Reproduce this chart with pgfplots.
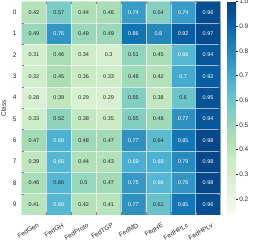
\documentclass[border=0pt]{standalone}
\usepackage{pgfplots}
\pgfplotsset{compat=1.18}
\usepackage{pgfplotstable}
\usepackage{fontspec}
\setmainfont{Liberation Sans}
\definecolor{darktxt}{HTML}{262626}
\pgfplotstableread{
x y v w
0 0 0.42 0
1 0 0.57 0
2 0 0.44 0
3 0 0.46 0
4 0 0.74 1
5 0 0.54 0
6 0 0.74 1
7 0 0.96 1
0 1 0.49 0
1 1 0.76 1
2 1 0.49 0
3 1 0.49 0
4 1 0.86 1
5 1 0.8 1
6 1 0.92 1
7 1 0.97 1
0 2 0.31 0
1 2 0.46 0
2 2 0.34 0
3 2 0.3 0
4 2 0.51 0
5 2 0.45 0
6 2 0.66 1
7 2 0.94 1
0 3 0.32 0
1 3 0.45 0
2 3 0.36 0
3 3 0.33 0
4 3 0.48 0
5 3 0.42 0
6 3 0.7 1
7 3 0.92 1
0 4 0.28 0
1 4 0.39 0
2 4 0.29 0
3 4 0.29 0
4 4 0.55 0
5 4 0.38 0
6 4 0.6 0
7 4 0.95 1
0 5 0.33 0
1 5 0.52 0
2 5 0.38 0
3 5 0.35 0
4 5 0.55 0
5 5 0.48 0
6 5 0.77 1
7 5 0.94 1
0 6 0.47 0
1 6 0.68 1
2 6 0.48 0
3 6 0.47 0
4 6 0.77 1
5 6 0.64 0
6 6 0.85 1
7 6 0.98 1
0 7 0.39 0
1 7 0.66 1
2 7 0.44 0
3 7 0.43 0
4 7 0.69 1
5 7 0.68 1
6 7 0.79 1
7 7 0.98 1
0 8 0.46 0
1 8 0.66 0
2 8 0.5 0
3 8 0.47 0
4 8 0.75 1
5 8 0.66 1
6 8 0.76 1
7 8 0.98 1
0 9 0.41 0
1 9 0.66 1
2 9 0.42 0
3 9 0.41 0
4 9 0.77 1
5 9 0.61 0
6 9 0.85 1
7 9 0.96 1
}\data
\begin{document}
\begin{tikzpicture}
\begin{axis}[
  name=main,
  /pgf/number format/assume math mode=true,
  scale only axis,
  width=199bp, height=213.5bp,
  y dir=reverse,
  xmin=-0.5, xmax=7.5, ymin=-0.5, ymax=9.5,
  enlargelimits=false,
  axis on top,
  axis line style={draw=none},
  xtick={0,...,7},
  xticklabels={FedGen,FedGH,FedProto,FedTGP,FedMD,FedHE,FedHPLc,FedHPLv},
  ytick={0,...,9},
  major tick length=0pt,
  minor xtick={0.5,1.5,...,6.5},
  minor ytick={0.5,1.5,...,8.5},
  minor grid style={white, line width=0.3pt, opacity=0.6},
  grid=minor,
  xticklabel style={font=\fontsize{6.5}{7}\selectfont, color=darktxt, rotate=30, anchor=north east, inner sep=1pt, yshift=-7bp},
  yticklabel style={font=\fontsize{6.5}{7}\selectfont, color=darktxt, xshift=-1.5bp},
  ylabel={Class},
  ylabel style={font=\fontsize{6.5}{7}\selectfont, color=darktxt},
  colormap={gnbu}{rgb255=(247,252,240) rgb255=(224,243,219) rgb255=(204,235,197) rgb255=(168,221,181) rgb255=(123,204,196) rgb255=(78,179,211) rgb255=(43,140,190) rgb255=(8,104,172) rgb255=(8,64,129)},
  point meta min=0.135, point meta max=1.0,
  colorbar,
  colorbar style={
    width=9bp,
    at={(parent axis.north east)}, anchor=north west, xshift=-1.9bp,
    ytick={0.2,0.3,...,1.0},
    yticklabel style={font=\fontsize{6.5}{7}\selectfont, color=darktxt, inner sep=1pt, /pgf/number format/.cd, fixed, precision=1, fixed zerofill, assume math mode=true},
    major tick length=2bp,
    tick style={color=darktxt, line width=0.4pt},
    tick align=outside,
    ytick pos=right,
    axis line style={draw=none},
  },
]
\addplot[matrix plot*, mesh/cols=8, point meta=explicit] table[x=x, y=y, meta=v]{\data};
\addplot[only marks, mark=none, point meta=explicit, restrict expr to domain={\thisrow{w}}{0:0},
  nodes near coords={\pgfmathprintnumber[fixed, precision=2]{\pgfplotspointmeta}},
  nodes near coords align=center,
  every node near coord/.append style={font=\fontsize{5.5}{6}\selectfont, text=darktxt}]
  table[x=x, y=y, meta=v]{\data};
\addplot[only marks, mark=none, point meta=explicit, restrict expr to domain={\thisrow{w}}{1:1},
  nodes near coords={\pgfmathprintnumber[fixed, precision=2]{\pgfplotspointmeta}},
  nodes near coords align=center,
  every node near coord/.append style={font=\fontsize{5.5}{6}\selectfont, text=white}]
  table[x=x, y=y, meta=v]{\data};
\end{axis}
\path (main.north west) ++(-21.5bp,1.5bp) coordinate (bba);
\path (main.north west) ++(244.5bp,-243.5bp) coordinate (bbb);
\pgfresetboundingbox
\path[use as bounding box] (bba) rectangle (bbb);
\end{tikzpicture}
\end{document}
